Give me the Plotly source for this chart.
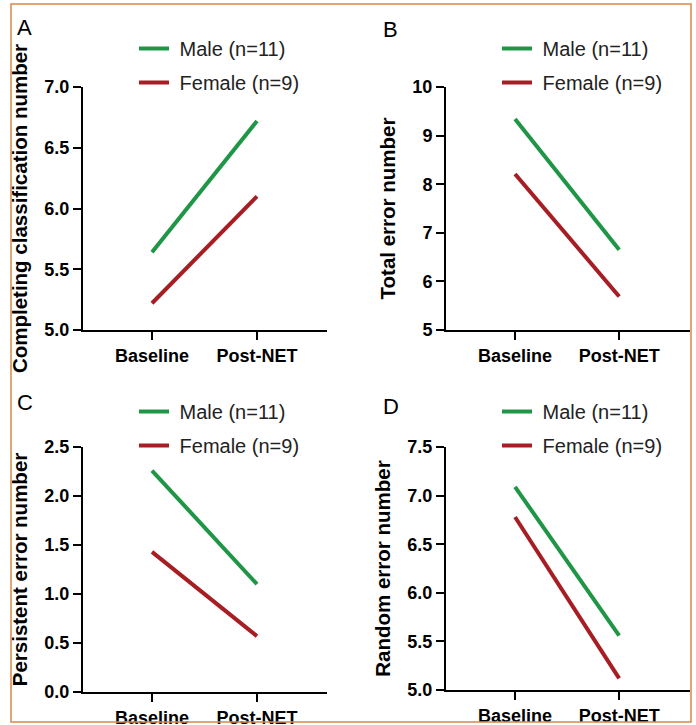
import plotly.graph_objects as go

W, H = 696, 725

timepoints = ["Baseline", "Post-NET"]
male_label = "\u00a0Male (n=11)"
female_label = "\u00a0Female (n=9)"

completing_male = [5.64, 6.72]
completing_female = [5.22, 6.10]
total_male = [9.34, 6.65]
total_female = [8.21, 5.69]
persistent_male = [2.26, 1.10]
persistent_female = [1.43, 0.57]
random_male = [7.09, 5.56]
random_female = [6.78, 5.12]

panel_letters = ["A", "B", "C", "D"]
y_titles = ["Completing classification number", "Total error number",
            "Persistent error number", "Random error number"]
y_ranges = [[5, 7], [5, 10], [0, 2.5], [5, 7.5]]
y_dticks = [0.5, 1, 0.5, 0.5]
y_formats = [".1f", "d", ".1f", ".1f"]

GREEN = "#1E9646"
RED = "#A61E24"
FONT = "Arial, Liberation Sans, sans-serif"

def px_x(p):
    return p / W

def px_y(p):
    return 1 - p / H

# panel geometry in pixels: (x0, x1, ytop, ybottom)
panels = [(83, 327, 87, 330), (446, 690, 87, 330),
          (83, 327, 447, 692), (446, 690, 447, 690)]
x_ranges = [[-0.657, 1.667], [-0.663, 1.68], [-0.657, 1.667], [-0.663, 1.68]]
legend_offsets = [58, 58, 55, 55]

series = [(completing_male, completing_female), (total_male, total_female),
          (persistent_male, persistent_female), (random_male, random_female)]

fig = go.Figure()
layout = {}
for i, (m, f) in enumerate(series):
    n = "" if i == 0 else str(i + 1)
    leg = "legend" + n
    fig.add_trace(go.Scatter(x=timepoints, y=m, mode="lines", name=male_label,
                             line=dict(color=GREEN, width=4),
                             xaxis="x" + n, yaxis="y" + n, legend=leg,
                             legendgroup="m" + n))
    fig.add_trace(go.Scatter(x=timepoints, y=f, mode="lines", name=female_label,
                             line=dict(color=RED, width=4),
                             xaxis="x" + n, yaxis="y" + n, legend=leg,
                             legendgroup="f" + n))
    x0, x1, yt, yb = panels[i]
    layout["xaxis" + n] = dict(
        domain=[px_x(x0), px_x(x1)], anchor="y" + n, type="category",
        range=x_ranges[i], showline=True, linecolor="black", linewidth=2,
        ticks="outside", ticklen=8, tickwidth=2, tickcolor="black",
        showgrid=False, zeroline=False, fixedrange=True, automargin=False,
        tickfont=dict(family=FONT, size=18, color="black", weight="bold"))
    layout["yaxis" + n] = dict(
        domain=[px_y(yb), px_y(yt)], anchor="x" + n, range=y_ranges[i],
        dtick=y_dticks[i], tick0=y_ranges[i][0], tickformat=y_formats[i],
        showline=True, linecolor="black", linewidth=2, automargin=False,
        ticks="outside", ticklen=8, tickwidth=2, tickcolor="black",
        showgrid=False, zeroline=False, fixedrange=True,
        tickfont=dict(family=FONT, size=18, color="black", weight="bold"),
        title=dict(text=y_titles[i], standoff=11,
                   font=dict(family=FONT, size=20.5, color="black", weight="bold")))
    layout[leg] = dict(
        x=px_x(x0 + 51), y=px_y(yt - legend_offsets[i]), xanchor="left",
        yanchor="top", bgcolor="rgba(0,0,0,0)", tracegroupgap=5, itemwidth=30,
        font=dict(family=FONT, size=20, color="#222222"))

annotations = []
letter_pos = [(15, 28), (381, 30), (15, 402), (381, 406)]
for letter, (lx, ly) in zip(panel_letters, letter_pos):
    annotations.append(dict(text=letter, x=px_x(lx), y=px_y(ly), xref="paper",
                            yref="paper", xanchor="left", yanchor="middle",
                            showarrow=False,
                            font=dict(family=FONT, size=22, color="black")))

fig.update_layout(
    width=W, height=H, margin=dict(l=0, r=0, t=0, b=0, autoexpand=False),
    paper_bgcolor="white", plot_bgcolor="white",
    showlegend=True, annotations=annotations, hovermode=False,
    shapes=[dict(type="rect", xref="paper", yref="paper",
                 x0=px_x(11), x1=px_x(691), y0=px_y(722), y1=px_y(4),
                 line=dict(color="#D9894A", width=1.5), layer="above")],
    **layout)

fig.write_html("out.html", config={"displayModeBar": False},
               post_script="document.body.style.margin='0';document.body.style.padding='0';")
